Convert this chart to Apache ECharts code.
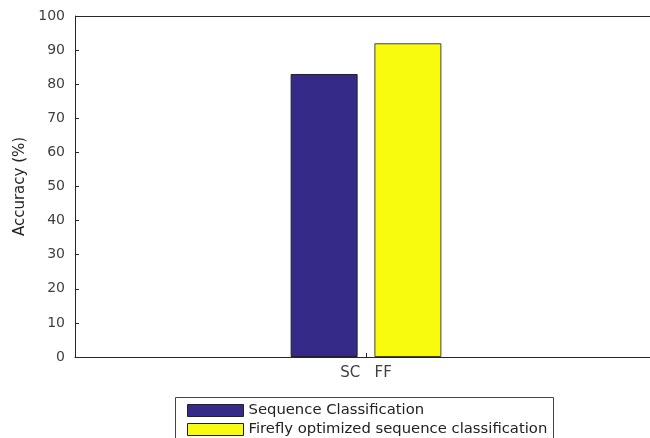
<!DOCTYPE html>
<html><head><meta charset="utf-8">
<script src="https://cdn.jsdelivr.net/npm/echarts@6/dist/echarts.min.js"></script>
<style>html,body{margin:0;padding:0;background:#fff;overflow:hidden}#c{width:658px;height:438px}</style>
</head><body><div id="c"></div>
<script>
const categories = ['SC   FF'];
const seriesNames = ['Sequence Classification', 'Firefly optimized sequence classification'];
const scValues = [83];
const ffValues = [92];
const yTicks = [0, 10, 20, 30, 40, 50, 60, 70, 80, 90, 100];

const font = 'DejaVu Sans';
const chart = echarts.init(document.getElementById('c'), null, {renderer: 'canvas'});
chart.setOption({
  animation: false,
  backgroundColor: '#fff',
  grid: {left: 75, top: 16, right: 1, bottom: 81, containLabel: false, show: false},
  legend: {
    orient: 'vertical', left: 187, top: 403,
    itemWidth: 56, itemHeight: 12, itemGap: 4,
    padding: 0,
    textStyle: {fontFamily: font, fontSize: 14.8, color: '#222', padding: 0},
    itemStyle: {borderColor: '#222', borderWidth: 1},
    icon: 'rect',
    data: seriesNames
  },
  xAxis: {
    type: 'category', data: categories,
    axisLine: {show: true, lineStyle: {color: '#262626', width: 1}},
    axisTick: {show: true, inside: true, length: 4, alignWithLabel: true, lineStyle: {color: '#262626'}},
    axisLabel: {fontFamily: font, fontSize: 15, color: '#404040', margin: 9}
  },
  yAxis: [{
    type: 'value', min: yTicks[0], max: yTicks[yTicks.length - 1], interval: 10,
    name: 'Accuracy (%)', nameLocation: 'middle', nameGap: 41, nameRotate: 90,
    nameTextStyle: {fontFamily: font, fontSize: 15, color: '#262626'},
    axisLine: {show: true, lineStyle: {color: '#262626', width: 1}},
    axisTick: {show: true, inside: true, length: 4, lineStyle: {color: '#262626'}},
    axisLabel: {fontFamily: font, fontSize: 14, color: '#404040', margin: 10},
    splitLine: {show: false}
  }],
  graphic: [{
    type: 'line', shape: {x1: 75, y1: 16.5, x2: 658, y2: 16.5},
    style: {stroke: '#262626', lineWidth: 1.2}, silent: true
  }, {
    type: 'rect', shape: {x: 175.5, y: 397.5, width: 378, height: 60},
    style: {fill: null, stroke: '#444', lineWidth: 1}, silent: true, z: 10
  }],
  series: [{
    name: seriesNames[0], type: 'bar', data: scValues, barWidth: 67, barGap: '25%',
    itemStyle: {color: '#352a87', borderColor: '#222', borderWidth: 1}
  }, {
    name: seriesNames[1], type: 'bar', data: ffValues, barWidth: 67,
    itemStyle: {color: '#f9fb0e', borderColor: '#444', borderWidth: 1}
  }]
});
</script></body></html>
